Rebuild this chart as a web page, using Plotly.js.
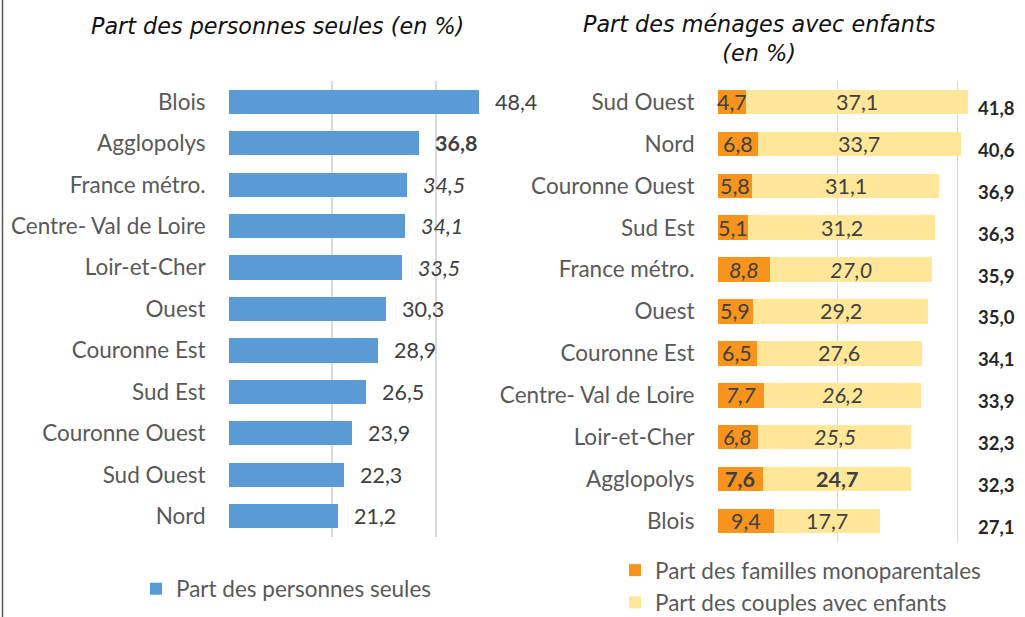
<!DOCTYPE html>
<html>
<head>
<meta charset="utf-8">
<script src="https://cdn.plot.ly/plotly-3.0.1.min.js"></script>
<style>html,body{margin:0;padding:0;background:#fff;overflow:hidden;}#chart{width:1025px;height:617px;}</style>
</head>
<body>
<div id="chart"></div>
<script>
// ---------- data ----------
const categoriesLeft = ['Blois','Agglopolys','France métro.','Centre- Val de Loire','Loir-et-Cher','Ouest','Couronne Est','Sud Est','Couronne Ouest','Sud Ouest','Nord'];
const valuesSeules = [48.4,36.8,34.5,34.1,33.5,30.3,28.9,26.5,23.9,22.3,21.2];
const emphasisLeft = ['','b','i','i','i','','','','','',''];

const categoriesRight = ['Sud Ouest','Nord','Couronne Ouest','Sud Est','France métro.','Ouest','Couronne Est','Centre- Val de Loire','Loir-et-Cher','Agglopolys','Blois'];
const valuesMono = [4.7,6.8,5.8,5.1,8.8,5.9,6.5,7.7,6.8,7.6,9.4];
const valuesCouples = [37.1,33.7,31.1,31.2,27.0,29.2,27.6,26.2,25.5,24.7,17.7];
const valuesTotal = [41.8,40.6,36.9,36.3,35.9,35.0,34.1,33.9,32.3,32.3,27.1];
const emphasisRight = ['','','','','i','','','i','i','b',''];

const titleLeft = 'Part des personnes seules (en %)';
const titleRight = 'Part des ménages avec enfants<br>(en %)';
const legendSeules = 'Part des personnes seules';
const legendMono = 'Part des familles monoparentales';
const legendCouples = 'Part des couples avec enfants';

// ---------- helpers ----------
const W = 1025, H = 617;
const px = v => v / W;
const py = v => 1 - v / H;
const fmt = v => v.toFixed(1).replace('.', ',');
const wrap = (s, e) => e ? `<${e}>${s}</${e}>` : s;

const FONT = 'Lato, "Open Sans", sans-serif';
const TFONT = '"DejaVu Sans", Verdana, sans-serif';
const BLUE = '#5B9BD5', ORANGE = '#F7941E', YELLOW = '#FFE699';
const VAL_COLOR = '#404040', CAT_COLOR = '#595959';
const VAL_SIZE = 21.5, CAT_SIZE = 22.5, LEG_SIZE = 22.5;

const traces = [
  {
    type: 'bar', orientation: 'h', name: legendSeules,
    y: categoriesLeft, x: valuesSeules,
    xaxis: 'x', yaxis: 'y',
    marker: {color: BLUE},
    legend: 'legend'
  },
  {
    type: 'bar', orientation: 'h', name: legendMono,
    y: categoriesRight, x: valuesMono,
    xaxis: 'x2', yaxis: 'y2',
    marker: {color: ORANGE},
    legend: 'legend2', legendgroup: 'g1'
  },
  {
    type: 'bar', orientation: 'h', name: legendCouples,
    y: categoriesRight, x: valuesCouples,
    xaxis: 'x2', yaxis: 'y2',
    marker: {color: YELLOW},
    legend: 'legend2', legendgroup: 'g2'
  }
];

const annotations = [];
// left value labels
valuesSeules.forEach((v, i) => {
  annotations.push({
    xref: 'x', yref: 'y', x: v, y: categoriesLeft[i],
    text: wrap(fmt(v), emphasisLeft[i]), showarrow: false,
    xanchor: 'left', xshift: 14,
    font: {family: FONT, size: VAL_SIZE, color: VAL_COLOR}
  });
});
// right segment labels and totals
valuesMono.forEach((m, i) => {
  const c = valuesCouples[i];
  annotations.push({
    xref: 'x2', yref: 'y2', x: m / 2, y: categoriesRight[i],
    text: wrap(fmt(m), emphasisRight[i]), showarrow: false,
    xanchor: 'center',
    font: {family: FONT, size: VAL_SIZE, color: VAL_COLOR}
  });
  annotations.push({
    xref: 'x2', yref: 'y2', x: m + c / 2, y: categoriesRight[i],
    text: wrap(fmt(c), emphasisRight[i]), showarrow: false,
    xanchor: 'center',
    font: {family: FONT, size: VAL_SIZE, color: VAL_COLOR}
  });
  annotations.push({
    xref: 'paper', yref: 'y2', x: px(976), y: categoriesRight[i],
    text: '<b>' + fmt(valuesTotal[i]) + '</b>', showarrow: false,
    xanchor: 'left', yshift: -6,
    font: {family: FONT, size: 18.5, color: '#262626'}
  });
});
// titles
annotations.push({
  xref: 'paper', yref: 'paper', x: px(277), y: py(26),
  text: '<i>' + titleLeft + '</i>', showarrow: false,
  xanchor: 'center', yanchor: 'middle',
  font: {family: TFONT, size: 22.3, color: '#111'}
});
annotations.push({
  xref: 'paper', yref: 'paper', x: px(759), y: py(38.5),
  text: '<i>' + titleRight + '</i>', showarrow: false,
  xanchor: 'center', yanchor: 'middle',
  font: {family: TFONT, size: 22.3, color: '#111'}
});

const gridTicks = [0, 20, 40];
const xBase = {
  tickvals: gridTicks, showticklabels: false, showgrid: true,
  gridcolor: '#D9D9D9', gridwidth: 1.5, zeroline: false, showline: false,
  ticks: '', fixedrange: true
};
const yBase = {
  type: 'category', autorange: 'reversed', showgrid: false, zeroline: false,
  showline: false, ticks: '', ticklabelstandoff: 22,
  tickfont: {family: FONT, size: CAT_SIZE, color: CAT_COLOR}, fixedrange: true
};

const layout = {
  width: W, height: H,
  margin: {l: 0, r: 0, t: 0, b: 0, autoexpand: false},
  paper_bgcolor: '#fff', plot_bgcolor: 'rgba(0,0,0,0)',
  barmode: 'stack', bargap: 0.415,
  font: {family: FONT, color: CAT_COLOR},
  xaxis: Object.assign({}, xBase, {domain: [px(228.6), px(539.4)], range: [0, 60], anchor: 'y'}),
  yaxis: Object.assign({}, yBase, {domain: [py(537), py(81)], anchor: 'x'}),
  xaxis2: Object.assign({}, xBase, {domain: [px(717.5), px(987.5)], range: [0, 45], anchor: 'y2'}),
  yaxis2: Object.assign({}, yBase, {domain: [py(542), py(81)], anchor: 'x2'}),
  showlegend: true,
  legend: {
    x: px(136), y: py(589), xanchor: 'left', yanchor: 'middle',
    orientation: 'v', bgcolor: 'rgba(0,0,0,0)',
    font: {family: FONT, size: LEG_SIZE, color: CAT_COLOR}
  },
  legend2: {
    x: px(615), y: py(549), xanchor: 'left', yanchor: 'top',
    orientation: 'v', bgcolor: 'rgba(0,0,0,0)', tracegroupgap: 7,
    traceorder: 'normal',
    font: {family: FONT, size: LEG_SIZE, color: CAT_COLOR}
  },
  annotations: annotations,
  shapes: [{
    type: 'line', xref: 'paper', yref: 'paper',
    x0: px(2.5), x1: px(2.5), y0: 0, y1: 1,
    line: {color: '#595959', width: 1.5}
  }]
};

Plotly.newPlot('chart', traces, layout, {displayModeBar: false, staticPlot: true});
</script>
</body>
</html>
